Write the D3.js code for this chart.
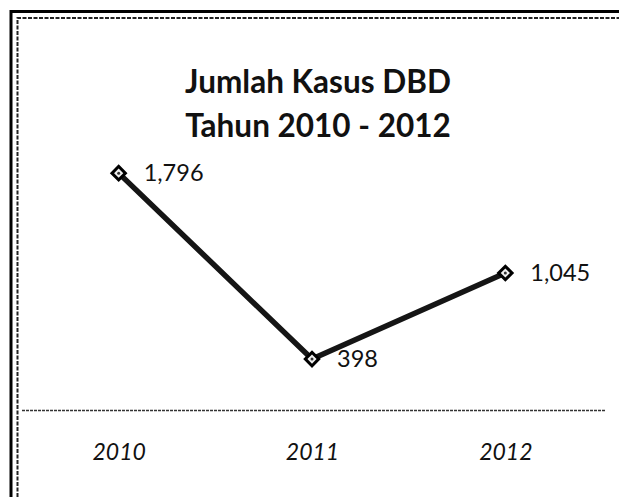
<!DOCTYPE html>
<html>
<head>
<meta charset="utf-8">
<script src="https://cdn.jsdelivr.net/npm/d3@7"></script>
<style>
  body { margin: 0; background: #fff; }
  svg { display: block; }
  text { font-family: Lato, "Open Sans", sans-serif; fill: #111; }
</style>
</head>
<body>
<div id="chart"></div>
<script>
// chart data
const years = ["2010", "2011", "2012"];
const cases = [1796, 398, 1045];
const titleLines = ["Jumlah Kasus DBD", "Tahun 2010 - 2012"];

const width = 619;
const height = 497;

const svg = d3.select("#chart").append("svg")
    .attr("width", width)
    .attr("height", height);

svg.append("rect")
    .attr("width", width)
    .attr("height", height)
    .attr("fill", "#fff");

// outer frame (top + left only, the rest is cut off)
svg.append("path")
    .attr("d", "M11,497 V11.5 H619")
    .attr("fill", "none")
    .attr("stroke", "#000")
    .attr("stroke-width", 3);

// inner dotted frame
svg.append("path")
    .attr("d", "M17.5,497 V18 H619")
    .attr("fill", "none")
    .attr("stroke", "#222")
    .attr("stroke-width", 2)
    .attr("stroke-dasharray", "4,1.5");

// title
svg.append("g")
    .selectAll("text")
    .data(titleLines)
    .enter().append("text")
    .attr("x", 318)
    .attr("y", (d, i) => 93 + i * 44)
    .attr("text-anchor", "middle")
    .style("font-size", "31.5px")
    .style("font-weight", "bold")
    .text(d => d);

const x = d3.scalePoint()
    .domain(years)
    .range([22, 602])
    .padding(0.5);

const y = d3.scaleLinear()
    .domain([0, 2000])
    .range([412, 146]);

// category axis baseline
svg.append("line")
    .attr("x1", 22)
    .attr("x2", 606)
    .attr("y1", y(0) - 1.5)
    .attr("y2", y(0) - 1.5)
    .attr("stroke", "#333")
    .attr("stroke-width", 1.5)
    .attr("stroke-dasharray", "3,1");

const xAxis = svg.append("g")
    .attr("transform", "translate(0," + y(0) + ")")
    .call(d3.axisBottom(x).tickSize(0).tickPadding(0));
xAxis.select(".domain").remove();
xAxis.selectAll("text")
    .attr("y", 48)
    .attr("dy", 0)
    .style("font-size", "23px")
    .style("font-style", "italic")
    .style("font-family", "Lato, sans-serif")
    .attr("fill", "#111");

const points = years.map((yr, i) => ({ year: yr, value: cases[i] }));

const line = d3.line()
    .x(d => x(d.year))
    .y(d => y(d.value));

svg.append("path")
    .datum(points)
    .attr("d", line)
    .attr("fill", "none")
    .attr("stroke", "#151515")
    .attr("stroke-width", 5.5)
    .attr("stroke-linejoin", "round");

// square diamonds
svg.selectAll(".marker")
    .data(points)
    .enter().append("path")
    .attr("class", "marker")
    .attr("transform", d => "translate(" + x(d.year) + "," + y(d.value) + ") rotate(45)")
    .attr("d", d3.symbol().type(d3.symbolSquare).size(90))
    .attr("fill", "#eee")
    .attr("stroke", "#000")
    .attr("stroke-width", 3);

svg.selectAll(".dot")
    .data(points)
    .enter().append("circle")
    .attr("class", "dot")
    .attr("cx", d => x(d.year))
    .attr("cy", d => y(d.value))
    .attr("r", 1.5)
    .attr("fill", "#333");

svg.selectAll(".label")
    .data(points)
    .enter().append("text")
    .attr("class", "label")
    .attr("x", d => x(d.year) + 25)
    .attr("y", d => y(d.value) + 8)
    .style("font-size", "23.5px")
    .text(d => d3.format(",")(d.value));
</script>
</body>
</html>
